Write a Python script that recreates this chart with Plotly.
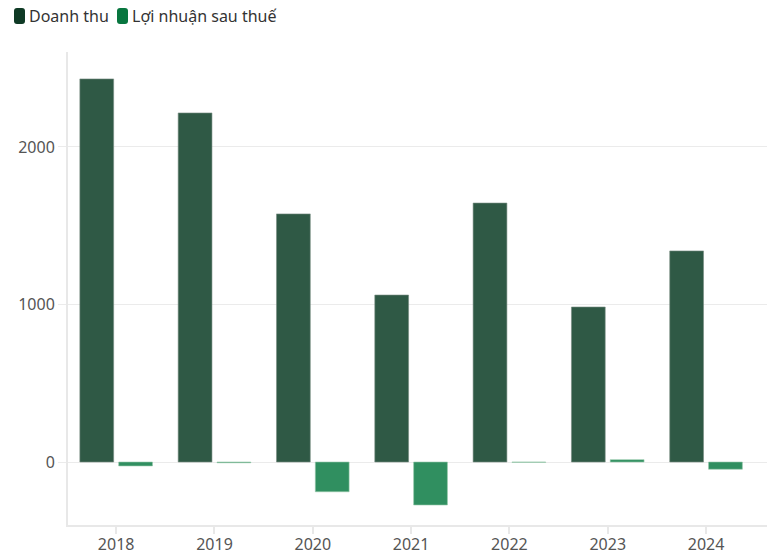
import plotly.graph_objects as go

years = ["2018", "2019", "2020", "2021", "2022", "2023", "2024"]
doanh_thu = [2432, 2216, 1575, 1060, 1644, 984, 1340]
loi_nhuan = [-25, -5, -189, -273, -2, 15, -46]
series_names = ["Doanh thu", "Lợi nhuận sau thuế"]

W, H = 767, 555
ML, MR, MT, MB = 68, 0, 52, 30
PW, PH = W - ML - MR, H - MT - MB

C_DARK_BAR = "#2f5945"
C_GREEN_BAR = "#308f60"
C_DARK_LEG = "#0f3a25"
C_GREEN_LEG = "#08763f"

fig = go.Figure()
fig.add_trace(go.Bar(x=years, y=doanh_thu, name=series_names[0],
                     marker=dict(color=C_DARK_BAR, line=dict(color="rgba(120,140,130,0.6)", width=1)),
                     showlegend=False))
fig.add_trace(go.Bar(x=years, y=loi_nhuan, name=series_names[1],
                     marker=dict(color=C_GREEN_BAR, line=dict(color="rgba(150,200,170,0.6)", width=1)),
                     showlegend=False))

def px_x(px):
    return (px - ML) / PW

def px_y(py):
    return (H - MB - py) / PH

def rounded(x0, y0, x1, y1, r):
    return (f"M{x0+r},{y0} L{x1-r},{y0} Q{x1},{y0} {x1},{y0+r} L{x1},{y1-r} Q{x1},{y1} {x1-r},{y1} "
            f"L{x0+r},{y1} Q{x0},{y1} {x0},{y1-r} L{x0},{y0+r} Q{x0},{y0} {x0+r},{y0} Z")

legend_items = [(14, 29, C_DARK_LEG, series_names[0]), (117, 132, C_GREEN_LEG, series_names[1])]
for sx, tx, col, label in legend_items:
    fig.add_shape(type="path", xref="paper", yref="paper", xsizemode="pixel", ysizemode="pixel",
                  xanchor=0, yanchor=1,
                  path=rounded(sx - ML, MT - 24, sx + 11 - ML, MT - 8, 3),
                  fillcolor=col, line=dict(width=0))
    fig.add_annotation(text=label, xref="paper", yref="paper", x=px_x(tx - 2), y=px_y(16),
                       xanchor="left", yanchor="middle", showarrow=False,
                       font=dict(size=16, color="#333333", family="Noto Sans"))

fig.update_layout(
    width=W, height=H,
    margin=dict(l=ML, r=MR, t=MT, b=MB),
    paper_bgcolor="white", plot_bgcolor="white",
    barmode="group", bargap=0.21, bargroupgap=0.13,
    font=dict(family="Noto Sans", size=16, color="#555555"),
    xaxis=dict(type="category", range=[-0.49, 6.62], showgrid=False,
               showline=True, linecolor="#e8e8e8", linewidth=2,
               ticks="outside", ticklen=7, tickcolor="#e8e8e8", tickwidth=2,
               ticklabelstandoff=-3,
               tickfont=dict(size=16, color="#555555")),
    yaxis=dict(range=[-400, 2603], tickvals=[0, 1000, 2000], showgrid=True,
               gridcolor="#ebebeb", gridwidth=1, zeroline=False,
               showline=True, linecolor="#e8e8e8", linewidth=2,
               ticks="outside", ticklen=8, tickcolor="#ebebeb",
               tickfont=dict(size=16, color="#555555")),
)

fig.write_html("out.html")
